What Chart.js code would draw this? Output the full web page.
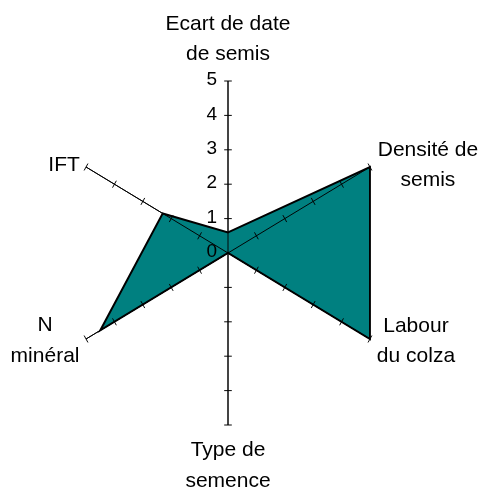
<!DOCTYPE html>
<html>
<head>
<meta charset="utf-8">
<script src="https://cdn.jsdelivr.net/npm/chart.js@4/dist/chart.umd.min.js"></script>
<style>
  html, body { margin: 0; padding: 0; background: #fff; }
  #wrap { width: 483px; height: 493px; position: relative; }
</style>
</head>
<body>
<div id="wrap"><canvas id="c" width="483" height="493"></canvas></div>
<script>
// ---- data ----
const categories = [
  ['Ecart de date', 'de semis'],
  ['Densité de', 'semis'],
  ['Labour', 'du colza'],
  ['Type de', 'semence'],
  ['N', 'minéral'],
  ['IFT']
];
const seriesValues = [0.6, 5, 5, 0, 4.5, 2.3];
const tickLabels = ['0', '1', '2', '3', '4', '5'];
const axisMin = 0;
const axisMax = 5;

// ---- drawing helpers (layout only) ----
const SQUASH_X = 0.953;
const labelFont = '21px "Liberation Sans", Arial, sans-serif';
const tickFont = '19px "Liberation Sans", Arial, sans-serif';
// per-axis label anchor offsets relative to the axis end point (screen px)
const labelLayout = [
  { dx: 0,   dy: -51, lh: 30, align: 'center' },
  { dx: 58,  dy: -11, lh: 30, align: 'center' },
  { dx: 46,  dy: -7,  lh: 30, align: 'center' },
  { dx: 0,   dy: 31,  lh: 31, align: 'center' },
  { dx: -41, dy: -8,  lh: 31, align: 'center' },
  { dx: -22, dy: 4,   lh: 30, align: 'center' }
];

const radarDecor = {
  id: 'radarDecor',
  beforeDraw(chart) {
    const s = chart.scales.r;
    const ctx = chart.ctx;
    ctx.save();
    ctx.translate(s.xCenter, 0);
    ctx.scale(SQUASH_X, 1);
    ctx.translate(-s.xCenter, 0);
  },
  afterDraw(chart) {
    const s = chart.scales.r;
    const ctx = chart.ctx;
    const n = chart.data.labels.length;
    ctx.strokeStyle = '#000';
    ctx.lineWidth = 1;
    for (let i = 0; i < n; i++) {
      const p0 = s.getPointPositionForValue(i, axisMin);
      const p1 = s.getPointPositionForValue(i, axisMax);
      // axis line, drawn over the filled area
      ctx.beginPath();
      ctx.moveTo(p0.x, p0.y);
      ctx.lineTo(p1.x, p1.y);
      ctx.stroke();
      // tick marks
      const len = Math.hypot(p1.x - p0.x, p1.y - p0.y) || 1;
      const nx = -(p1.y - p0.y) / len, ny = (p1.x - p0.x) / len;
      for (let k = 1; k < tickLabels.length; k++) {
        const v = Number(tickLabels[k]);
        const p = s.getPointPositionForValue(i, v);
        ctx.beginPath();
        ctx.moveTo(p.x - nx * 4, p.y - ny * 4);
        ctx.lineTo(p.x + nx * 4, p.y + ny * 4);
        ctx.stroke();
      }
    }
    ctx.restore();

    const toScreenX = (x) => s.xCenter + (x - s.xCenter) * SQUASH_X;

    // tick labels along first axis
    ctx.save();
    ctx.fillStyle = '#000';
    ctx.font = tickFont;
    ctx.textAlign = 'right';
    ctx.textBaseline = 'middle';
    tickLabels.forEach((t) => {
      const p = s.getPointPositionForValue(0, Number(t));
      ctx.fillText(t, toScreenX(p.x) - 11, p.y - 1);
    });

    // axis labels
    ctx.font = labelFont;
    ctx.textBaseline = 'alphabetic';
    chart.data.labels.forEach((lab, i) => {
      const end = s.getPointPositionForValue(i, axisMax);
      const L = labelLayout[i];
      const lines = Array.isArray(lab) ? lab : [lab];
      ctx.textAlign = L.align;
      lines.forEach((line, j) => {
        ctx.fillText(line, toScreenX(end.x) + L.dx, end.y + L.dy + j * L.lh);
      });
    });
    ctx.restore();
  }
};

new Chart(document.getElementById('c'), {
  type: 'radar',
  data: {
    labels: categories,
    datasets: [{
      data: seriesValues,
      backgroundColor: '#008080',
      borderColor: '#000000',
      borderWidth: 2,
      pointRadius: 0,
      pointHoverRadius: 0,
      fill: true,
      tension: 0
    }]
  },
  options: {
    responsive: false,
    animation: false,
    devicePixelRatio: 1,
    layout: { padding: { left: 56, top: 81, right: 83, bottom: 68 } },
    plugins: { legend: { display: false }, tooltip: { enabled: false } },
    scales: {
      r: {
        min: axisMin,
        max: axisMax,
        beginAtZero: true,
        grid: { display: false },
        angleLines: { display: true, color: '#000', lineWidth: 1 },
        ticks: { display: false, stepSize: 1 },
        pointLabels: { display: false }
      }
    }
  },
  plugins: [radarDecor]
});
</script>
</body>
</html>
